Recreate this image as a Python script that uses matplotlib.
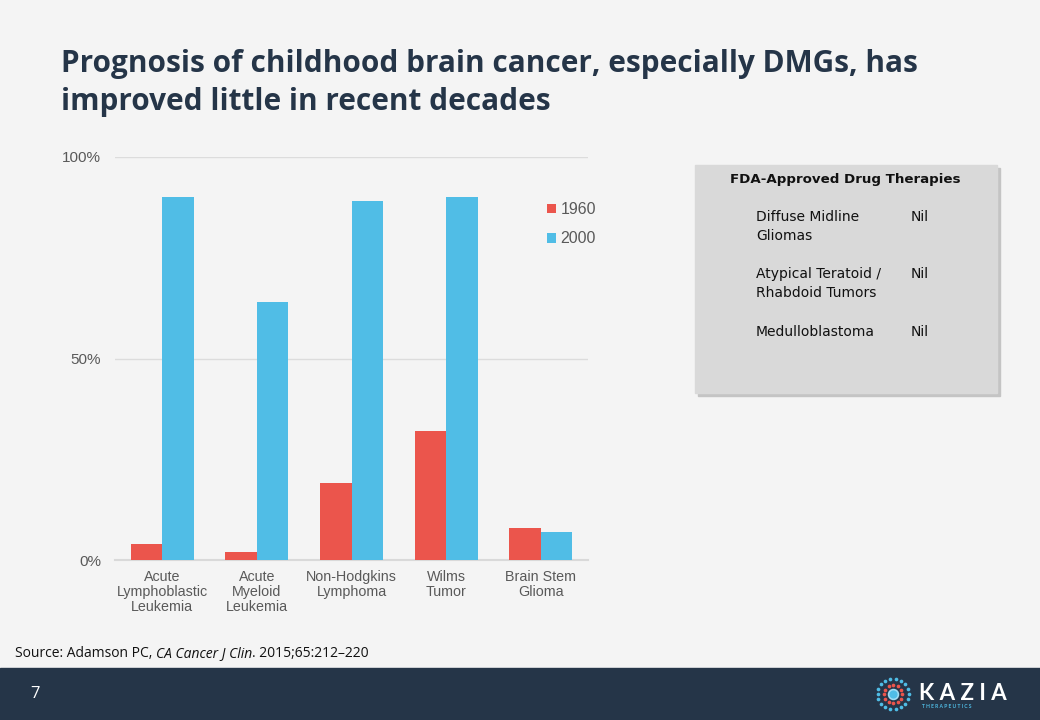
import matplotlib
matplotlib.use("Agg")
import matplotlib.pyplot as plt
import numpy as np
from matplotlib.patches import Rectangle

# data
categories = ["Acute\nLymphoblastic\nLeukemia", "Acute\nMyeloid\nLeukemia",
              "Non-Hodgkins\nLymphoma", "Wilms\nTumor", "Brain Stem\nGlioma"]
surv_1960 = [0.04, 0.02, 0.19, 0.32, 0.08]
surv_2000 = [0.90, 0.64, 0.89, 0.90, 0.07]
series_names = ["1960", "2000"]
yticks = [0, 0.5, 1.0]
ytick_labels = ["0%", "50%", "100%"]

table_rows = [("Diffuse Midline\nGliomas", "Nil"),
              ("Atypical Teratoid /\nRhabdoid Tumors", "Nil"),
              ("Medulloblastoma", "Nil")]

RED = "#eb554c"
BLUE = "#50bde6"
NAVY = "#253548"
BG = "#f4f4f4"
W, H = 1040, 720

fig = plt.figure(figsize=(10.4, 7.2), dpi=100)
fig.patch.set_facecolor(BG)

# overlay axes in pixel coords for the slide decoration
bg = fig.add_axes([0, 0, 1, 1], zorder=0)
bg.set_xlim(0, W)
bg.set_ylim(H, 0)
bg.axis("off")

# title
title_kw = dict(fontsize=21.4, fontweight="bold", color=NAVY, family="Open Sans", va="baseline")
bg.text(61, 72, "Prognosis of childhood brain cancer, especially DMGs, has", **title_kw)
bg.text(61, 110, "improved little in recent decades", **title_kw)

# chart
ax = fig.add_axes([115 / W, (H - 560) / H, 473 / W, 403 / H], zorder=1)
ax.set_facecolor("none")
x = np.arange(len(categories))
bw = 0.333
ax.bar(x - bw / 2, surv_1960, bw, color=RED, label=series_names[0], zorder=3)
ax.bar(x + bw / 2, surv_2000, bw, color=BLUE, label=series_names[1], zorder=3)
ax.set_xlim(-0.5, len(categories) - 0.5)
ax.set_ylim(0, 1.0)
ax.set_yticks(yticks)
ax.set_yticklabels(ytick_labels)
ax.set_xticks(x)
ax.set_xticklabels(categories, linespacing=1.1)
for s in ["top", "right", "left"]:
    ax.spines[s].set_visible(False)
ax.spines["bottom"].set_color("#d9d9d9")
ax.spines["bottom"].set_linewidth(1.5)
ax.grid(axis="y", color="#dcdcdc", linewidth=1, zorder=0)
ax.tick_params(length=0, colors="#595959")
ax.tick_params(axis="x", labelsize=10.3, pad=7)
ax.tick_params(axis="y", labelsize=11, pad=10)
for lab in ax.get_xticklabels() + ax.get_yticklabels():
    lab.set_family("Liberation Sans")
ax.legend(loc="upper left", bbox_to_anchor=(539 / W, 1 - 194 / H), bbox_transform=fig.transFigure,
          frameon=False, borderpad=0, handlelength=0.55, handleheight=0.55, handletextpad=0.3,
          labelspacing=0.9, prop={"family": "Liberation Sans", "size": 11.5},
          labelcolor="#595959")

# table box with shadow
bg.add_patch(Rectangle((698, 168), 302, 228, color="#c4c4c4", zorder=1))
bg.add_patch(Rectangle((695, 165), 302, 228, color="#d9d9d9", zorder=2))
bg.text(845, 180, "FDA-Approved Drug Therapies", ha="center", va="center",
        fontsize=9.6, fontweight="bold", color="#111111", family="DejaVu Sans", zorder=3)
row_y = [210, 267, 325]
for (name, val), yy in zip(table_rows, row_y):
    bg.text(756, yy, name, ha="left", va="top", fontsize=10, color="#111111",
            family="DejaVu Sans", linespacing=1.45, zorder=3)
    bg.text(911, yy, val, ha="left", va="top", fontsize=10, color="#111111",
            family="DejaVu Sans", zorder=3)

# source line
src_kw = dict(fontsize=10, color="#111111", family="Open Sans", va="bottom")
t1 = bg.text(15, 661, "Source: Adamson PC, ", **src_kw)
t2 = bg.annotate("CA Cancer J Clin", xy=(1, 0), xycoords=t1, style="italic", **src_kw)
bg.annotate(". 2015;65:212\u2013220", xy=(1, 0), xycoords=t2, **src_kw)

# footer
bg.add_patch(Rectangle((0, 668), W, 52, color=NAVY, zorder=1))
bg.text(30, 694, "7", color="white", fontsize=12, va="center", family="Open Sans", zorder=3)

# logo
cx, cy = 893, 694
bg.scatter([cx], [cy], s=50, color=BLUE, edgecolors="#9fdcf3", linewidths=1.2, zorder=3)
ang = np.linspace(0, 2 * np.pi, 12, endpoint=False)
bg.scatter(cx + 9 * np.cos(ang), cy + 9 * np.sin(ang), s=7, color=RED, zorder=3, linewidths=0)
ang = np.linspace(0, 2 * np.pi, 18, endpoint=False)
bg.scatter(cx + 15.5 * np.cos(ang), cy + 15.5 * np.sin(ang), s=7, color=BLUE, zorder=3, linewidths=0)
bg.text(919, 693, "K A Z I A", color="white", fontsize=16, fontweight="bold",
        family="Lato", va="center", ha="left", zorder=3)
bg.text(922, 706, "T H E R A P E U T I C S", color=BLUE, fontsize=3.6, fontweight="bold",
        family="Lato", va="center", ha="left", zorder=3)

fig.savefig("out.png", dpi=100, facecolor=BG)
